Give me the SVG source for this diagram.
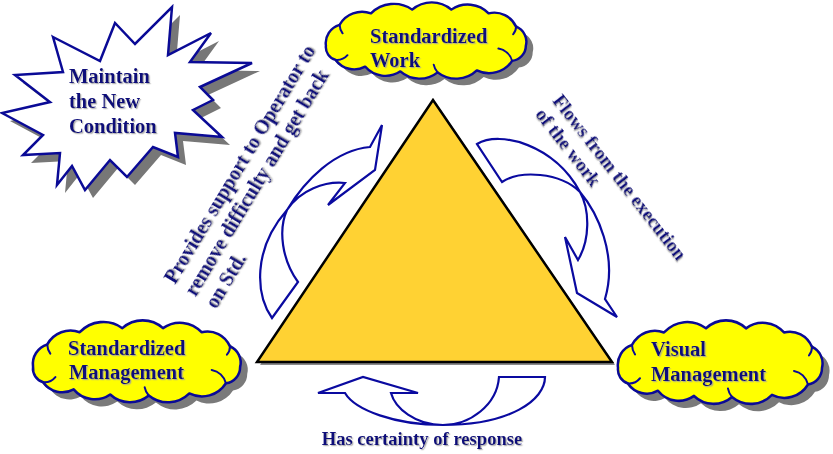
<svg xmlns="http://www.w3.org/2000/svg" width="833" height="454" viewBox="0 0 833 454">
<style>
.lbl{font-family:"Liberation Serif","Times New Roman",serif;font-weight:bold;fill:#10107a;filter:url(#tsh)}
.big{font-size:20.5px}
.cloud{fill:#ffff00;stroke:#0a0a96;stroke-width:2.5;stroke-linejoin:round}
.cshadow{fill:#7a7a7a}
.inner{fill:none;stroke:#0a0a96;stroke-width:2;stroke-linecap:round}
.arrow{fill:#ffffff;stroke:#0a0aa0;stroke-width:2.2;stroke-linejoin:miter}
</style>
<defs>
<filter id="tsh" x="-10%" y="-10%" width="130%" height="140%">
<feDropShadow dx="1.2" dy="1.2" stdDeviation="0.4" flood-color="#a0a0a0" flood-opacity="0.8"/>
</filter>
<path id="cloudShape" d="M4,46 A20,20 0 0 1 18,24 A26,26 0 0 1 50,12 A32,32 0 0 1 92,8 A30,30 0 0 1 132,8 A29,29 0 0 1 170,12 A24,24 0 0 1 198,26 A17,17 0 0 1 208,46 A16,16 0 0 1 194,62 A28,28 0 0 1 158,72 A30,30 0 0 1 118,74 A29,29 0 0 1 80,73 A27,27 0 0 1 44,68 A23,23 0 0 1 14,61 A14,14 0 0 1 4,46 Z"/>
<path id="cloudInner" d="M18,24 A16,16 0 0 0 21,33 M14,61 A14,14 0 0 0 26,56 M194,62 A18,18 0 0 0 180,49 M198,26 A12,12 0 0 1 195,34 M118,74 A16,16 0 0 1 114,66"/>
<polygon id="starShape" points="53,37 100,61 115,23 135,44 172,7 168,55 211,33 190,62 252,63 200,87 213,100 193,110 222,137 175,133 178,157 153,147 127,177 110,160 85,190 72,166 57,185 60,153 23,155 43,135 2,113 50,102 15,75 63,72"/>
</defs>
<rect width="833" height="454" fill="#ffffff"/>

<g id="maintain-new-condition">
<use href="#starShape" transform="translate(8,8)" fill="#777777"/>
<use href="#starShape" fill="#ffffff" stroke="#0a0a96" stroke-width="2.5" stroke-linejoin="miter"/>
<text class="lbl big" x="69" y="83">Maintain</text>
<text class="lbl big" x="69" y="108">the New</text>
<text class="lbl big" x="69" y="133">Condition</text>
</g>

<g id="triangle">
<polygon points="436,103 260,365 615,365" fill="#8a8a8a"/>
<polygon points="433,100 257,362 612,362" fill="#ffd233" stroke="#000000" stroke-width="2.5" stroke-linejoin="miter"/>
</g>

<g id="standardized-work">
<g transform="translate(322,2) scale(0.98,0.95)">
<use href="#cloudShape" class="cshadow" transform="translate(7,7)"/>
<use href="#cloudShape" class="cloud"/>
<use href="#cloudInner" class="inner"/>
</g>
<text class="lbl big" x="370" y="43">Standardized</text>
<text class="lbl big" x="370" y="67">Work</text>
</g>

<g id="standardized-management">
<g transform="translate(29,320) scale(1.015,1.02)">
<use href="#cloudShape" class="cshadow" transform="translate(7,7)"/>
<use href="#cloudShape" class="cloud"/>
<use href="#cloudInner" class="inner"/>
</g>
<text class="lbl big" x="68" y="355">Standardized</text>
<text class="lbl big" x="69" y="379">Management</text>
</g>

<g id="visual-management">
<g transform="translate(614,320) scale(1,1.04)">
<use href="#cloudShape" class="cshadow" transform="translate(7,7)"/>
<use href="#cloudShape" class="cloud"/>
<use href="#cloudInner" class="inner"/>
</g>
<text class="lbl big" x="651" y="356">Visual</text>
<text class="lbl big" x="651" y="381">Management</text>
</g>

<g id="connectors">
<path id="arrow-left" class="arrow" d="M272,318 C256,295 252,250 287,210 C305,180 335,150 370,147 L382,125 L375,170 L328,205 L345,183 C325,181 300,190 287,210 C278,230 282,260 298,282 Z"/>
<path id="arrow-right" class="arrow" d="M477,144 C500,130 555,145 580,192 C597,212 618,255 605,299 L617,317 L577,293 L565,237 L578,260 C590,240 590,210 580,192 C560,172 520,170 502,182 Z"/>
<path id="arrow-bottom" class="arrow" d="M499,377 L545,377 C545,400 510,425 443,425 C395,425 355,410 345,393 L318,393 L363,377 L418,393 L391,393 C395,408 415,425 443,425 C470,425 497,405 499,377 Z"/>
<text class="lbl" font-size="20" transform="translate(175,285) rotate(-59)"><tspan x="0" y="0">Provides support to Operator to</tspan><tspan x="0" y="24">remove difficulty and get back</tspan><tspan x="0" y="48">on Std.</tspan></text>
<text class="lbl" font-size="19" transform="translate(552,101) rotate(52)"><tspan x="0" y="0">Flows from the execution</tspan><tspan x="0" y="22">of the work</tspan></text>
<text class="lbl" font-size="18.6" x="422" y="445" text-anchor="middle">Has certainty of response</text>
</g>
</svg>
